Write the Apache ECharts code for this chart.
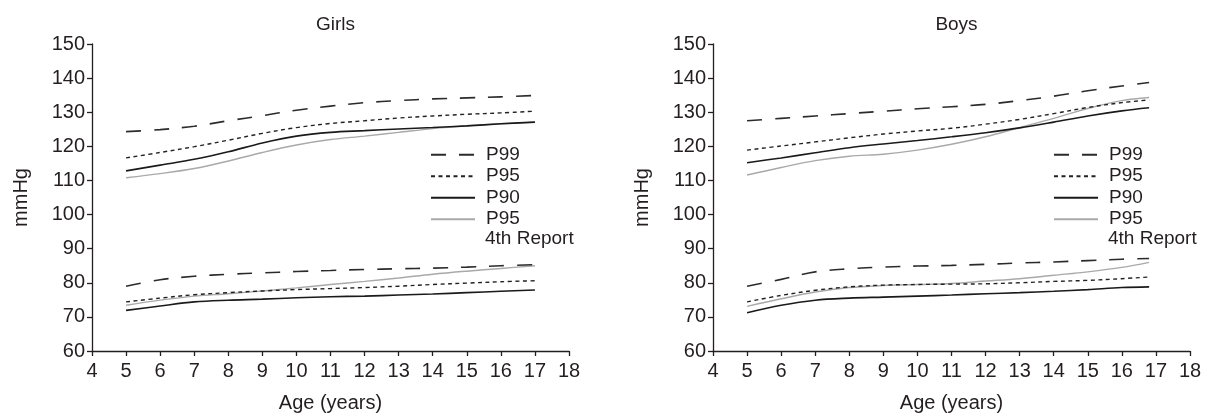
<!DOCTYPE html>
<html>
<head>
<meta charset="utf-8">
<script src="https://cdn.jsdelivr.net/npm/echarts@6/dist/echarts.min.js"></script>
<style>
html,body{margin:0;padding:0;background:#fff;}
#c{width:1206px;height:415px;}
</style>
</head>
<body>
<div id="c"></div>
<script>
// ---- data ----
const girlsAges = [5,6,7,8,9,10,11,12,13,14,15,16,17];
const boysAges  = [5,6,7,8,9,10,11,12,13,14,15,16,16.8];

// Girls systolic
const girlsSysP99  = [124.3,124.9,125.9,127.5,129.0,130.6,131.8,132.8,133.4,133.9,134.2,134.5,134.9];
const girlsSysP95  = [116.6,118.2,119.9,121.8,123.8,125.5,126.7,127.5,128.3,128.9,129.4,129.8,130.3];
const girlsSysP90  = [112.8,114.5,116.2,118.4,121.0,123.0,124.1,124.6,125.1,125.5,126.0,126.6,127.1];
const girlsSysP95r = [110.8,112.0,113.5,115.7,118.2,120.4,122.0,123.0,124.1,125.2,126.0,126.6,127.1];
// Girls diastolic
const girlsDiaP99  = [79.0,80.9,81.9,82.5,82.9,83.3,83.6,83.9,84.1,84.3,84.6,85.0,85.3];
const girlsDiaP95  = [74.4,75.5,76.5,77.1,77.6,78.0,78.3,78.6,79.0,79.5,79.9,80.3,80.6];
const girlsDiaP90  = [71.9,73.2,74.4,74.9,75.2,75.6,75.9,76.1,76.4,76.7,77.1,77.5,77.9];
const girlsDiaP95r = [73.4,74.9,76.1,76.8,77.6,78.5,79.5,80.4,81.4,82.5,83.4,84.2,85.0];

// Boys systolic
const boysSysP99  = [127.5,128.2,128.9,129.6,130.3,131.0,131.6,132.3,133.4,134.7,136.3,137.7,138.7];
const boysSysP95  = [118.9,120.1,121.3,122.5,123.6,124.5,125.3,126.5,127.9,129.6,131.4,132.8,133.6];
const boysSysP90  = [115.2,116.6,118.1,119.6,120.7,121.7,122.8,124.0,125.4,127.1,128.9,130.4,131.3];
const boysSysP95r = [111.6,113.8,115.8,117.1,117.7,118.9,120.6,122.8,125.5,128.2,131.1,133.4,134.3];
// Boys diastolic
const boysDiaP99  = [79.0,81.0,83.2,84.1,84.6,84.9,85.1,85.4,85.8,86.1,86.5,86.9,87.1];
const boysDiaP95  = [74.4,76.3,77.8,78.8,79.3,79.5,79.6,79.7,80.0,80.4,80.7,81.2,81.7];
const boysDiaP90  = [71.2,73.4,74.9,75.5,75.8,76.1,76.4,76.8,77.1,77.5,78.0,78.6,78.8];
const boysDiaP95r = [73.1,75.3,77.3,78.6,79.2,79.5,79.8,80.5,81.2,82.2,83.2,84.5,86.0];

const xTicks = [4,18];
const yRange = [60,150];
const seriesNames = ['P99','P95','P90','P95 4th Report'];
const legendLabels = {'P99':'P99','P95':'P95','P90':'P90','P95 4th Report':'P95'};
const panelTitles = ['Girls','Boys'];
const xName = 'Age (years)';
const yName = 'mmHg';
const noteText = '4th Report';

// ---- build ----
const FONT = '"Liberation Sans", Arial, Helvetica, sans-serif';
const TXT = '#231f20';
const styles = {
  'P99': {color:'#2b2b2b', width:1.6, type:[15,13]},
  'P95': {color:'#222222', width:1.4, type:[4,3.5]},
  'P90': {color:'#1a1a1a', width:1.6, type:'solid'},
  'P95 4th Report': {color:'#a9a9a9', width:1.4, type:'solid'}
};
function zip(xs, ys){ return xs.map((x,i)=>[x, ys[i]]); }

const panels = [
  {ages: girlsAges, groups: [[girlsSysP99,girlsSysP95,girlsSysP90,girlsSysP95r],[girlsDiaP99,girlsDiaP95,girlsDiaP90,girlsDiaP95r]]},
  {ages: boysAges,  groups: [[boysSysP99,boysSysP95,boysSysP90,boysSysP95r],[boysDiaP99,boysDiaP95,boysDiaP90,boysDiaP95r]]}
];
const gridLefts = [92, 713];
const plotW = 477, plotTop = 44, plotH = 307;

const series = [];
panels.forEach((p, gi) => {
  p.groups.forEach(group => {
    group.forEach((vals, si) => {
      const nm = seriesNames[si];
      series.push({
        type:'line', name:nm, xAxisIndex:gi, yAxisIndex:gi,
        data: zip(p.ages, vals), symbol:'none', smooth:0.35,
        lineStyle: Object.assign({}, styles[nm]),
        itemStyle: {color: styles[nm].color},
        z: si===3 ? 1 : 2,
        animation:false
      });
    });
  });
});

const axisCommonX = (gi) => ({
  type:'value', gridIndex:gi, min:xTicks[0], max:xTicks[1], interval:1,
  name:xName, nameLocation:'middle', nameGap:42,
  nameTextStyle:{fontFamily:FONT, fontSize:20, color:TXT},
  axisLine:{show:true, onZero:false, lineStyle:{color:TXT, width:1.3}},
  axisTick:{show:true, length:5, lineStyle:{color:TXT, width:1.3}},
  axisLabel:{fontFamily:FONT, fontSize:20, color:TXT, margin:10},
  splitLine:{show:false}
});
const axisCommonY = (gi) => ({
  type:'value', gridIndex:gi, min:yRange[0], max:yRange[1], interval:10,
  name:yName, nameLocation:'middle', nameGap:61,
  nameTextStyle:{fontFamily:FONT, fontSize:20, color:TXT},
  axisLine:{show:true, lineStyle:{color:TXT, width:1.3}},
  axisTick:{show:true, length:5, lineStyle:{color:TXT, width:1.3}},
  axisLabel:{fontFamily:FONT, fontSize:20, color:TXT, margin:7},
  splitLine:{show:false}
});

const legendLefts = [430, 1053];
const option = {
  backgroundColor:'#fff',
  animation:false,
  title: panelTitles.map((t, i) => ({
    text:t, left: gridLefts[i] + plotW/2, top:10, textAlign:'center',
    textStyle:{fontFamily:FONT, fontSize:19, fontWeight:'normal', color:TXT}
  })),
  grid: gridLefts.map(l => ({left:l, top:plotTop, width:plotW, height:plotH, containLabel:false, outerBoundsMode:'none'})),
  xAxis: [axisCommonX(0), axisCommonX(1)],
  yAxis: [axisCommonY(0), axisCommonY(1)],
  legend: legendLefts.map(l => ({
    data: seriesNames, orient:'vertical', left:l, top:144, padding:0,
    itemWidth:44, itemHeight:14, itemGap:0,
    selectedMode:false,
    itemStyle:{opacity:0},
    formatter: n => legendLabels[n],
    textStyle:{fontFamily:FONT, fontSize:19, color:TXT, lineHeight:21.5, padding:[0,0,0,6]}
  })),
  graphic: legendLefts.map(l => ({
    type:'text', left: l + 55, top: 229,
    style:{text: noteText, font: '19px ' + FONT, fill: TXT}
  })),
  series: series
};

const chart = echarts.init(document.getElementById('c'), null, {renderer:'canvas'});
chart.setOption(option);
</script>
</body>
</html>
